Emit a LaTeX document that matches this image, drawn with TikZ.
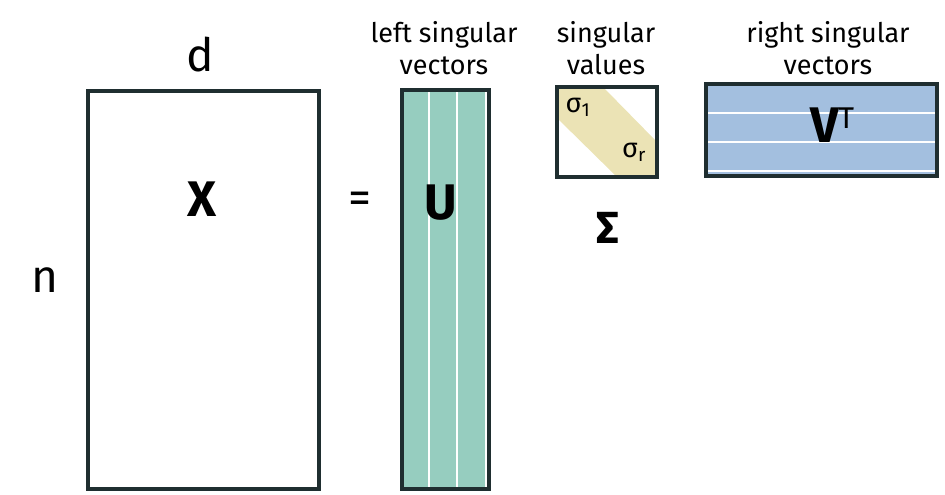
\documentclass[tikz,border=0pt]{standalone}
\usepackage{fontspec}
\setmainfont{Fira Sans}
\definecolor{frame}{HTML}{1F2E30}
\definecolor{ucol}{HTML}{96CDBF}
\definecolor{vcol}{HTML}{A3BFDF}
\definecolor{scol}{HTML}{EBE3B5}
\tikzset{
  box/.style={draw=frame,line width=3.5pt},
  gap/.style={white,line width=2pt},
  caption/.style={font=\fontsize{27}{32}\selectfont,align=center},
  dim/.style={font=\fontsize{46}{50}\selectfont},
  mat/.style={font=\fontsize{50}{54}\selectfont\bfseries},
  entry/.style={font=\fontsize{27}{30}\selectfont}
}
\begin{document}
\begin{tikzpicture}[x=1pt,y=-1pt]
    \useasboundingbox (0,0) rectangle (945,495);
    % X
    \draw[box] (88,91) rectangle (319,489);
    % U
    \fill[ucol] (402,90) rectangle (488,489);
    \draw[gap] (429,90) -- (429,489);
    \draw[gap] (457,90) -- (457,489);
    \draw[gap] (486,90) -- (486,489);
    \draw[box] (402,90) rectangle (489,489);
    % Sigma
    \fill[scol] (557,87) -- (603,87) -- (657,142) -- (657,177) -- (617,177) -- (557,118) -- cycle;
    \draw[box] (557,87) rectangle (657,177);
    % V^T
    \fill[vcol] (706,84) rectangle (937,176);
    \draw[gap] (706,113) -- (937,113);
    \draw[gap] (706,142) -- (937,142);
    \draw[gap] (706,171) -- (937,171);
    \draw[box] (706,84) rectangle (937,176);
    % nodes
    \node (d) at (200,55) [dim] {d};
    \node (n) at (45,280) [dim] {n};
    \node (X) at (202,199) [mat] {X};
    \node (eq) at (360,203) [dim] {=};
    \node (U) at (441,203) [mat] {U};
    \node (Sigma) at (608,228) [mat,font=\fontsize{45}{50}\selectfont\bfseries] {Σ};
    \node (VT) at (832,125) [mat] {V{\fontsize{30}{30}\selectfont\mdseries\raisebox{0.45em}{T}}};
    \node (s1) at (578,107) [entry] {σ\textsubscript{1}};
    \node (sr) at (634,152) [entry] {σ\textsubscript{r}};
    \node (left) at (444,48) [caption] {left singular\\vectors};
    \node (vals) at (606,48) [caption] {singular\\values};
    \node (right) at (828,48) [caption] {right singular\\vectors};
\end{tikzpicture}
\end{document}
